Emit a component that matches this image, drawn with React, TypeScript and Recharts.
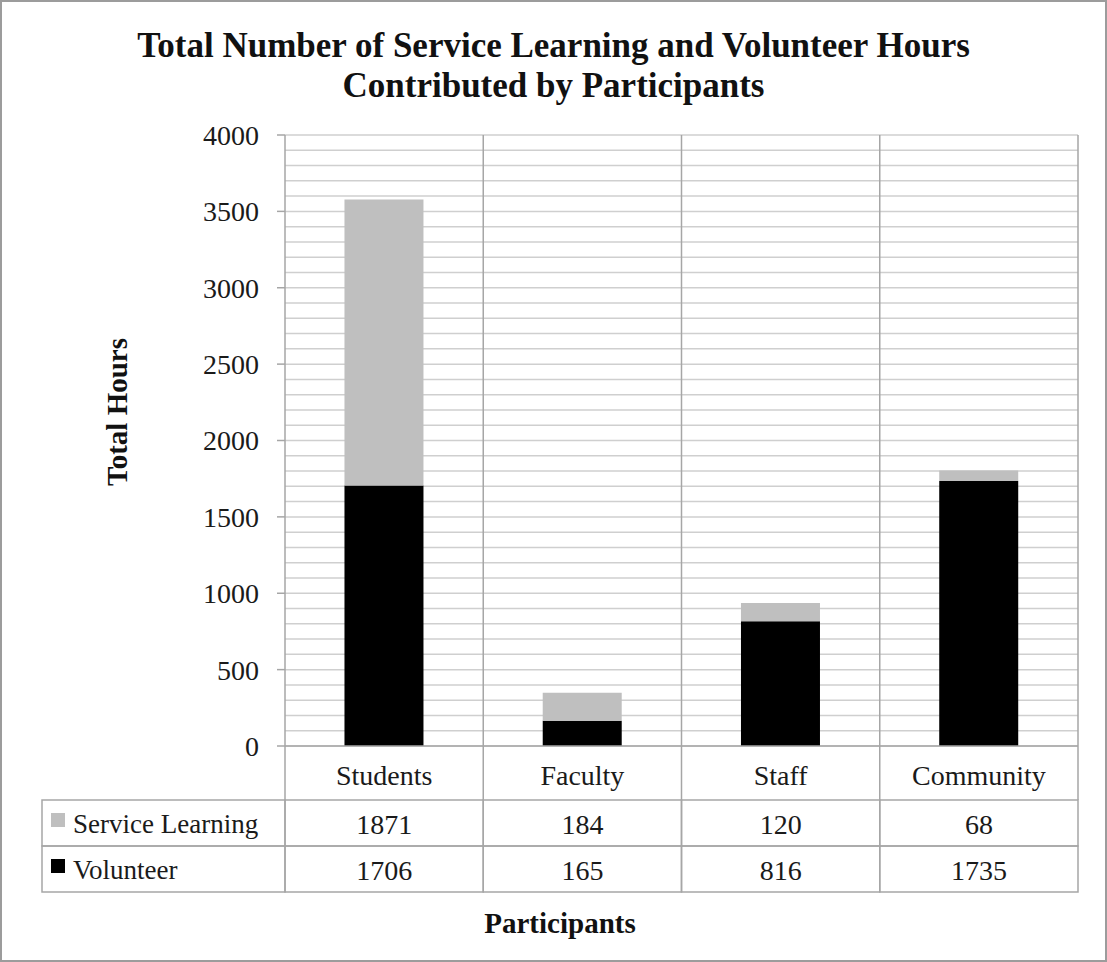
import { BarChart, Bar, XAxis, YAxis, CartesianGrid } from "recharts";

const categories = ["Students", "Faculty", "Staff", "Community"];
const serviceLearning = [1871, 184, 120, 68];
const volunteer = [1706, 165, 816, 1735];
const yTicks = [0, 500, 1000, 1500, 2000, 2500, 3000, 3500, 4000];
const gridStep = 100;
const yMax = 4000;

const data = categories.map((name, i) => ({
  name,
  serviceLearning: serviceLearning[i],
  volunteer: volunteer[i],
}));
const minorTicks = Array.from({ length: yMax / gridStep + 1 }, (_, i) => i * gridStep);

const W = 1107;
const H = 962;
const MARGIN = { top: 135, right: 29, bottom: 70, left: 200 };
const Y_AXIS_W = 85;
const PLOT_W = W - MARGIN.left - MARGIN.right - Y_AXIS_W;
const BAND = PLOT_W / categories.length;
const CAT_ROW_H = 54;
const ROW_H = 46;
const TABLE_LEFT = 42;
const FONT = '"Liberation Serif", "Times New Roman", serif';
const FS = 28;
const LINE = "#a6a6a6";
const GRID = "#cfcfcf";
const TEXT = "#1a1a1a";
const SL_COLOR = "#bfbfbf";
const VOL_COLOR = "#000000";

// map a value through the y scale, whatever shape the library hands us
const yPos = (yAxis: any, offset: any, v: number) => {
  const s = yAxis?.scale;
  if (typeof s === "function") return s(v);
  if (s && typeof s.map === "function") return s.map(v);
  return offset.top + offset.height * (1 - v / yMax);
};

const CategoryTick = (props: any) => {
  const { x, y, payload, index } = props;
  const left = x - BAND / 2;
  return (
    <g>
      {index === 0 && (
        <line x1={left} y1={y} x2={left} y2={y + CAT_ROW_H} stroke={LINE} strokeWidth={1.5} />
      )}
      <line x1={left + BAND} y1={y} x2={left + BAND} y2={y + CAT_ROW_H} stroke={LINE} strokeWidth={1.5} />
      <text
        x={x}
        y={y + CAT_ROW_H / 2 + 2}
        textAnchor="middle"
        dominantBaseline="central"
        fontFamily={FONT}
        fontSize={FS}
        fill={TEXT}
      >
        {payload.value}
      </text>
    </g>
  );
};

const makeRowTick = (label: string, values: number[], swatch: string) => (props: any) => {
  const { x, y, index } = props;
  const left = x - BAND / 2;
  return (
    <g>
      {index === 0 && (
        <g>
          <rect x={TABLE_LEFT} y={y} width={left - TABLE_LEFT} height={ROW_H} fill="none" stroke={LINE} strokeWidth={1.5} />
          <rect x={TABLE_LEFT + 9} y={y + 13} width={14} height={14} fill={swatch} />
          <text
            x={TABLE_LEFT + 31}
            y={y + ROW_H / 2 + 1}
            dominantBaseline="central"
            fontFamily={FONT}
            fontSize={27}
            fill={TEXT}
          >
            {label}
          </text>
        </g>
      )}
      <rect x={left} y={y} width={BAND} height={ROW_H} fill="none" stroke={LINE} strokeWidth={1.5} />
      <text
        x={x}
        y={y + ROW_H / 2 + 1}
        textAnchor="middle"
        dominantBaseline="central"
        fontFamily={FONT}
        fontSize={FS}
        fill={TEXT}
      >
        {values[index]}
      </text>
    </g>
  );
};

const SlTick = makeRowTick("Service Learning", serviceLearning, SL_COLOR);
const VolTick = makeRowTick("Volunteer", volunteer, VOL_COLOR);

export default function App() {
  return (
    <div style={{ position: "absolute", left: 0, top: 0, width: W, height: H, background: "#fff" }}>
      <BarChart width={W} height={H} data={data} margin={MARGIN} barCategoryGap="30%">
        <CartesianGrid
          stroke={GRID}
          strokeWidth={1.5}
          vertical={false}
          horizontalCoordinatesGenerator={({ yAxis, offset }: any) =>
            minorTicks.map((v) => yPos(yAxis, offset, v))
          }
        />
        <CartesianGrid
          stroke={LINE}
          strokeWidth={1.5}
          horizontal={false}
          verticalCoordinatesGenerator={({ offset }: any) =>
            categories.map((_, i) => offset.left + BAND * (i + 1))
          }
        />
        <YAxis
          width={Y_AXIS_W}
          domain={[0, yMax]}
          ticks={yTicks}
          interval={0}
          tickSize={8}
          tickMargin={18}
          axisLine={{ stroke: LINE, strokeWidth: 1.5 }}
          tickLine={{ stroke: LINE, strokeWidth: 1.5 }}
          tick={{ fontFamily: FONT, fontSize: FS, fill: TEXT }}
        />
        <XAxis
          dataKey="name"
          height={CAT_ROW_H}
          tickSize={0}
          tickMargin={0}
          axisLine={{ stroke: LINE, strokeWidth: 1.5 }}
          tickLine={false}
          tick={<CategoryTick />}
          interval={0}
        />
        <XAxis
          xAxisId="sl"
          dataKey="name"
          height={ROW_H}
          tickSize={0}
          tickMargin={0}
          axisLine={false}
          tickLine={false}
          tick={<SlTick />}
          interval={0}
        />
        <XAxis
          xAxisId="vol"
          dataKey="name"
          height={ROW_H}
          tickSize={0}
          tickMargin={0}
          axisLine={false}
          tickLine={false}
          tick={<VolTick />}
          interval={0}
        />
        <Bar dataKey="volunteer" stackId="a" fill={VOL_COLOR} isAnimationActive={false} />
        <Bar dataKey="serviceLearning" stackId="a" fill={SL_COLOR} isAnimationActive={false} />
      </BarChart>
      <div
        style={{
          position: "absolute",
          left: 0,
          top: 26,
          width: W,
          textAlign: "center",
          fontFamily: FONT,
          fontWeight: "bold",
          fontSize: 35,
          lineHeight: "40px",
          color: "#111",
        }}
      >
        Total Number of Service Learning and Volunteer Hours
        <br />
        Contributed by Participants
      </div>
      <div
        style={{
          position: "absolute",
          left: 117 - 100,
          top: 412 - 17,
          width: 200,
          height: 34,
          lineHeight: "34px",
          textAlign: "center",
          transform: "rotate(-90deg)",
          fontFamily: FONT,
          fontWeight: "bold",
          fontSize: 29,
          color: "#111",
        }}
      >
        Total Hours
      </div>
      <div
        style={{
          position: "absolute",
          left: TABLE_LEFT,
          top: 923 - 17,
          width: W - MARGIN.right - TABLE_LEFT,
          lineHeight: "34px",
          textAlign: "center",
          fontFamily: FONT,
          fontWeight: "bold",
          fontSize: 29,
          color: "#111",
        }}
      >
        Participants
      </div>
      <div
        style={{
          position: "absolute",
          left: 0,
          top: 0,
          width: W,
          height: H,
          boxSizing: "border-box",
          border: "2px solid #9c9c9c",
          pointerEvents: "none",
        }}
      />
    </div>
  );
}
